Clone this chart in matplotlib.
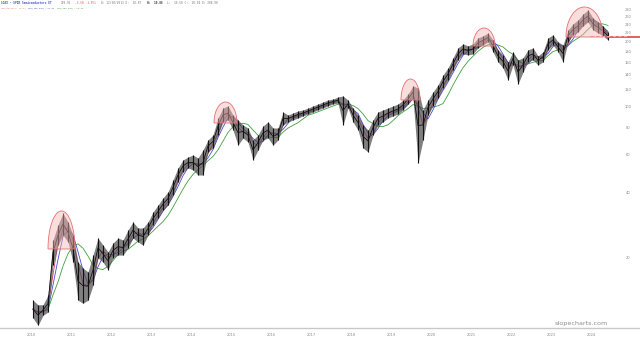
import numpy as np
import pandas as pd
import matplotlib
matplotlib.use("Agg")
import matplotlib.pyplot as plt
from matplotlib.patches import Polygon
import matplotlib.transforms as mtransforms

W, H = 640, 341

# x axis years and right-side price labels
years = list(range(2010, 2025))
price_ticks = [20, 40, 60, 80, 100, 120, 140, 160, 180, 200, 220, 240, 260, 280]

# price range per period (~1.5 months)
hi = [12.8, 12.2, 12.2, 13.5, 24.3, 28.5, 32.3, 29.4, 25.6, 19.2,
      18.0, 17.3, 20.7, 24.8, 23.0, 21.4, 23.5, 24.8, 24.3, 27.0,
      29.4, 27.6, 27.6, 29.4, 32.7, 35.2, 38.0, 40.5, 46.0, 52.3,
      56.9, 58.7, 60.0, 58.1, 63.3, 70.4, 74.2, 89.0, 98.9, 101.1,
      91.8, 87.1, 82.6, 80.0, 70.4, 74.2, 81.7, 85.3, 80.0, 80.0,
      94.8, 91.8, 93.8, 95.8, 96.9, 98.9, 101.1, 103.2, 105.5, 107.7,
      108.9, 111.2, 112.4, 107.7, 98.9, 91.8, 82.6, 78.3, 87.1, 94.8,
      96.9, 98.9, 101.1, 103.2, 107.7, 114.8, 125.0, 122.4, 96.9, 107.7,
      117.3, 126.4, 140.6, 151.5, 168.6, 187.5, 195.7, 191.6, 195.7, 208.6,
      213.0, 219.9, 204.2, 183.6, 174.1, 161.6, 179.8, 165.1, 168.6, 183.6,
      187.5, 172.3, 179.8, 208.6, 215.3, 199.9, 193.6, 227.0, 241.9, 252.4,
      268.9, 280.6, 257.8, 247.1, 236.9, 222.2]
lo = [10.6, 9.8, 10.9, 11.3, 18.6, 23.0, 25.6, 23.8, 19.2, 12.8,
      12.4, 12.8, 15.0, 20.1, 19.2, 17.7, 20.1, 20.7, 20.7, 22.3,
      24.8, 23.8, 23.0, 25.6, 28.5, 30.7, 33.4, 35.2, 39.2, 45.0,
      50.1, 52.3, 51.2, 48.5, 48.5, 62.0, 64.7, 74.2, 85.3, 87.1,
      78.3, 66.7, 71.9, 68.9, 56.9, 63.3, 70.4, 71.9, 66.7, 70.4,
      82.6, 85.3, 87.1, 89.0, 90.9, 92.8, 94.8, 96.9, 98.9, 101.1,
      103.2, 104.3, 82.6, 98.9, 85.3, 78.3, 64.7, 62.0, 74.2, 82.6,
      85.3, 89.0, 90.9, 92.8, 96.9, 103.2, 110.0, 55.1, 70.4, 91.8,
      101.1, 110.0, 122.4, 133.2, 148.3, 165.1, 176.0, 174.1, 176.0, 187.5,
      193.6, 199.9, 179.8, 161.6, 151.5, 133.2, 156.4, 127.7, 145.1, 161.6,
      165.1, 156.4, 161.6, 183.6, 193.6, 179.8, 161.6, 199.9, 215.3, 222.2,
      236.9, 247.1, 227.0, 219.9, 213.0, 204.2]

last_price = 209.91
prev_close = 213.41

t = 2010.05 + 0.125 * np.arange(len(hi))
df = pd.DataFrame({"t": t, "hi": hi, "lo": lo})
df["close"] = np.sqrt(df.hi * df.lo)
df["ma50"] = df.close.rolling(2, min_periods=1).mean()
df["ma100"] = df.close.rolling(3, min_periods=1).mean()
df["ma200"] = df.close.rolling(6, min_periods=1).mean()

fig = plt.figure(figsize=(W / 100, H / 100), dpi=100, facecolor="white")
ax = fig.add_axes([0, 0, 1, 1])
ax.set_yscale("log")
ax.set_xlim(2010 - 31 / 40, 2010 + 609 / 40)
ax.set_ylim(100 * np.exp(-234 / 94), 100 * np.exp(107 / 94))
ax.axis("off")

# moving averages
ax.plot(df.t, df.ma200, color="#3f9f3f", lw=0.6, zorder=2)
ax.plot(df.t, df.ma100, color="#4b4bd0", lw=0.6, zorder=2)
ax.plot(df.t, df.ma50, color="#d8406a", lw=0.6, zorder=2)

# price bars
ax.fill_between(df.t, df.lo, df.hi, color="#4a4a4a", alpha=0.7, lw=0, zorder=3)
ax.vlines(df.t, df.lo, df.hi, color="#111111", lw=0.8, zorder=3)
ax.plot(df.t, df.close, color="#111111", lw=0.6, zorder=3)

# last price / previous close lines
trans_x = mtransforms.blended_transform_factory(ax.transAxes, ax.transData)
ax.plot([607 / W, 1], [last_price, last_price], color="#e05252", lw=1.3,
        transform=trans_x, zorder=4)
ax.plot([590 / W, 628 / W], [prev_close, prev_close], color="#f2a6a6", lw=0.8,
        ls=(0, (3, 2)), transform=trans_x, zorder=4)

# highlighted tops
def dome(x0, x1, ytop, ybase):
    th = np.linspace(0, np.pi, 60)
    cx, a, h = (x0 + x1) / 2, (x1 - x0) / 2, ybase - ytop
    px = cx + a * np.cos(th)
    py = ybase - h * np.sin(th)
    pts = np.column_stack([px / W, 1 - py / H])
    fig.add_artist(Polygon(pts, closed=True, transform=fig.transFigure,
                           facecolor="#f6b4b4", alpha=0.45, edgecolor="none",
                           zorder=5))
    fig.add_artist(Polygon(pts, closed=True, transform=fig.transFigure,
                           facecolor="none", edgecolor="#e47070", lw=0.6,
                           zorder=6))

dome(48, 75, 211, 249)
dome(214, 237, 102, 123)
dome(401, 420, 79, 100)
dome(473, 495, 28, 46)
dome(566, 603, 7, 37)

# axes furniture
fig.add_artist(plt.Line2D([0, 1], [1 - 328 / H, 1 - 328 / H],
                          transform=fig.transFigure, color="#c8c8c8", lw=1))
trans_yr = mtransforms.blended_transform_factory(ax.transData, fig.transFigure)
for yr in years:
    ax.text(yr, 1 - 335 / H, str(yr), transform=trans_yr, fontsize=2.6,
            color="#8a8a8a", ha="center", va="center")
for p in price_ticks:
    ax.text(628 / W, p, str(p), transform=trans_x, fontsize=2.6,
            color="#8a8a8a", ha="center", va="center")

fig.text(608 / W, 1 - 324 / H, "slopecharts.com", fontsize=4.6, color="#8c8c8c",
         ha="right", va="center")

# header
mono = "DejaVu Sans Mono"
def hdr(px, py, s, c, size=2.1, bold=False):
    fig.text(px / W, 1 - py / H, s, fontsize=size, color=c, family=mono,
             fontweight="bold" if bold else "normal", ha="left", va="center")

hdr(1, 3.5, "SOXX - SPDR Semiconductors ET", "#3b4fc4", bold=True)
hdr(61, 3.5, "209.91", "#777777")
hdr(75, 3.5, "-3.50 -1.55%", "#e05050")
hdr(101, 3.5, "D: 12/30/2013 O:  10.87", "#777777")
hdr(147, 3.5, "H:  10.86", "#333333", bold=True)
hdr(167, 3.5, "L:  10.58 C:  10.94 V: 208.98", "#777777")
hdr(1, 8.5, "SMA(50 Day): 16.87", "#e06a6a", size=1.6)
hdr(28, 8.5, "SMA(100 Day): 15.91", "#4b4bd0", size=1.6)
hdr(57, 8.5, "SMA(200 Day): 15.90", "#3f9f3f", size=1.6)

fig.savefig("out.png", dpi=100, facecolor="white")
